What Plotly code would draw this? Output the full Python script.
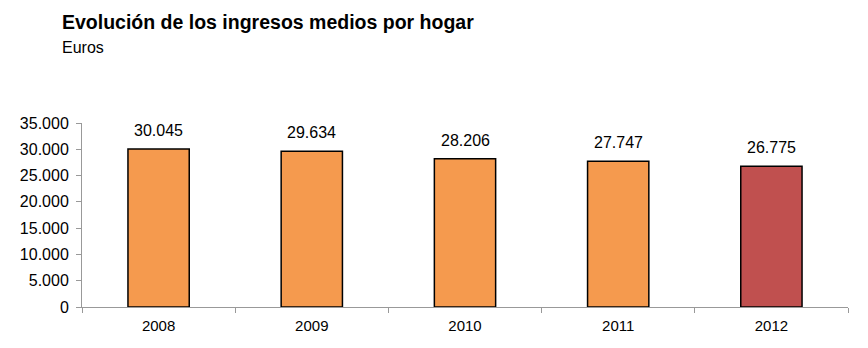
import plotly.graph_objects as go

years = ["2008", "2009", "2010", "2011", "2012"]
ingresos = [30045, 29634, 28206, 27747, 26775]
colores = ["#F59A4E", "#F59A4E", "#F59A4E", "#F59A4E", "#C0504F"]
y_ticks = [0, 5000, 10000, 15000, 20000, 25000, 30000, 35000]

labels = [f"{v:,}".replace(",", ".") for v in ingresos]
tick_text = [f"{v:,}".replace(",", ".") for v in y_ticks]

fig = go.Figure(go.Bar(
    x=years, y=ingresos,
    marker=dict(color=colores, line=dict(color="#000000", width=1.5)),
    width=0.4,
))

# category axis: annotation x uses category serial index
annotations = [
    dict(x=i, y=v, xref="x", yref="y", text=lab, showarrow=False,
         yanchor="bottom", yshift=8, font=dict(size=16, color="#000000"))
    for i, (v, lab) in enumerate(zip(ingresos, labels))
]
annotations += [
    dict(text="<b>Evolución de los ingresos medios por hogar</b>", xref="paper", yref="paper",
         x=(60 - 82) / 766, xanchor="left", y=1 + (123 - 9) / 184, yanchor="top",
         showarrow=False, font=dict(size=19.5, color="#000000")),
    dict(text="Euros", xref="paper", yref="paper",
         x=(60 - 82) / 766, xanchor="left", y=1 + (123 - 37) / 184, yanchor="top",
         showarrow=False, font=dict(size=16, color="#000000")),
]

fig.update_layout(
    width=868, height=348,
    margin=dict(l=82, r=20, t=123, b=41),
    paper_bgcolor="white", plot_bgcolor="white",
    font=dict(family="Liberation Sans, Arial, sans-serif", color="#000000"),
    showlegend=False,
    annotations=annotations,
)
fig.update_xaxes(
    type="category", tickangle=0, range=[-0.5, 4.5],
    showline=True, linecolor="#999999", linewidth=1,
    ticks="outside", tickson="boundaries", ticklen=5, tickcolor="#999999",
    tickfont=dict(size=15), showgrid=False, ticklabelstandoff=5,
)
fig.update_yaxes(
    range=[0, 35000], tickvals=y_ticks, ticktext=tick_text,
    showline=True, linecolor="#999999", linewidth=1,
    ticks="outside", ticklen=5, tickcolor="#999999",
    tickfont=dict(size=16), showgrid=False, zeroline=False, ticklabelstandoff=4,
)

fig.write_html("out.html")
